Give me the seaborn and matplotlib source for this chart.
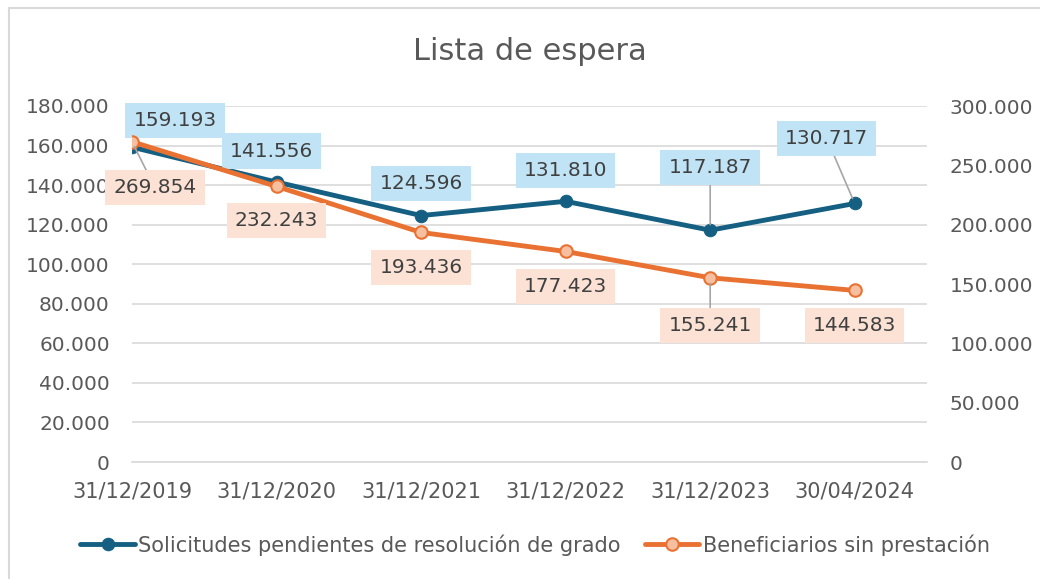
import matplotlib
matplotlib.use("Agg")
import matplotlib.pyplot as plt
import seaborn as sns
import pandas as pd
from matplotlib.patches import Rectangle
from matplotlib.ticker import FuncFormatter

fechas = ["31/12/2019", "31/12/2020", "31/12/2021", "31/12/2022", "31/12/2023", "30/04/2024"]
solicitudes = [159193, 141556, 124596, 131810, 117187, 130717]
beneficiarios = [269854, 232243, 193436, 177423, 155241, 144583]

serie_sol = "Solicitudes pendientes de resolución de grado"
serie_ben = "Beneficiarios sin prestación"

AZUL = "#156082"
NARANJA = "#E97132"
TEXTO = "#595959"

df = pd.DataFrame({"fecha": fechas, "sol": solicitudes, "ben": beneficiarios})
df["x"] = range(len(df))

sns.set_style("white")
plt.rcParams["font.family"] = ["DejaVu Sans"]

fig = plt.figure(figsize=(10.4, 5.79), dpi=100)
ax = fig.add_axes([132 / 1040, 1 - 462 / 579, (927 - 132) / 1040, (462 - 106) / 579])
ax2 = ax.twinx()

sns.lineplot(data=df, x="x", y="sol", ax=ax, color=AZUL, linewidth=3.5,
             marker="o", markersize=9, markerfacecolor=AZUL, markeredgecolor=AZUL,
             label=serie_sol, legend=False, zorder=3)
sns.lineplot(data=df, x="x", y="ben", ax=ax2, color=NARANJA, linewidth=3.5,
             marker="o", markersize=9, markerfacecolor="#F5BFA0", markeredgecolor=NARANJA,
             markeredgewidth=1.5, label=serie_ben, legend=False, zorder=3)

fmt = FuncFormatter(lambda v, p: f"{int(v):,}".replace(",", "."))
ax.set_ylim(0, 180000)
ax.set_yticks(range(0, 180001, 20000))
ax.yaxis.set_major_formatter(fmt)
ax2.set_ylim(0, 300000)
ax2.set_yticks(range(0, 300001, 50000))
ax2.yaxis.set_major_formatter(fmt)
ax.set_xlim(0, 5.5)
ax.set_xticks(df["x"])
ax.set_xticklabels(fechas)

ax.grid(axis="y", color="#D9D9D9", linewidth=1.2)
ax.set_axisbelow(True)
for a in (ax, ax2):
    for s in a.spines.values():
        s.set_visible(False)
    a.set_xlabel("")
    a.set_ylabel("")
ax.spines["bottom"].set_visible(True)
ax.spines["bottom"].set_color("#D9D9D9")
ax.spines["bottom"].set_linewidth(1.2)
ax.tick_params(axis="x", length=5, color="#D9D9D9", width=1.2, labelcolor=TEXTO, labelsize=15, pad=9)
ax.tick_params(axis="y", length=0, labelcolor=TEXTO, labelsize=14.5, pad=16)
ax2.tick_params(axis="y", length=0, labelcolor=TEXTO, labelsize=14.5, pad=16.5)

# etiquetas de datos: (dx, dy) en pixeles, con linea guia opcional
off_sol = [(43, 27, False), (-5, 31, False), (0, 32, False), (0, 31, False), (0, 63, True), (-28, 65, True)]
off_ben = [(23, -46, True), (0, -34, False), (0, -35, False), (0, -35, False), (0, -48, True), (0, -35, False)]

def etiquetar(eje, valores, offs, fondo):
    for i, (v, (dx, dy, guia)) in enumerate(zip(valores, offs)):
        txt = f"{v:,}".replace(",", ".")
        eje.annotate(txt, xy=(i, v), xytext=(dx, dy), textcoords="offset pixels",
                     ha="center", va="center", fontsize=14.5, color="#404040",
                     bbox=dict(boxstyle="square,pad=0.4", fc=fondo, ec="none"),
                     arrowprops=dict(arrowstyle="-", color="#A6A6A6", lw=1.2,
                                     shrinkA=0, shrinkB=4) if guia else None,
                     zorder=5, annotation_clip=False)

etiquetar(ax, solicitudes, off_sol, "#C0E4F5")
etiquetar(ax2, beneficiarios, off_ben, "#FBE2D5")

fig.text(530 / 1040, 1 - 52 / 579, "Lista de espera", ha="center", va="center",
         fontsize=22, color=TEXTO)

h1, l1 = ax.get_legend_handles_labels()
h2, l2 = ax2.get_legend_handles_labels()
fig.legend(h1 + h2, l1 + l2, loc="center", bbox_to_anchor=(535 / 1040, 1 - 545 / 579),
           ncol=2, frameon=False, fontsize=15, labelcolor=TEXTO, handlelength=2.6,
           handletextpad=0.15, columnspacing=1.2)

fig.patches.append(Rectangle((9 / 1040, -0.1), 1.2, 1 - 8 / 579 + 0.1, transform=fig.transFigure,
                             fill=False, ec="#D9D9D9", lw=1.5))

fig.savefig("out.png", dpi=100)
